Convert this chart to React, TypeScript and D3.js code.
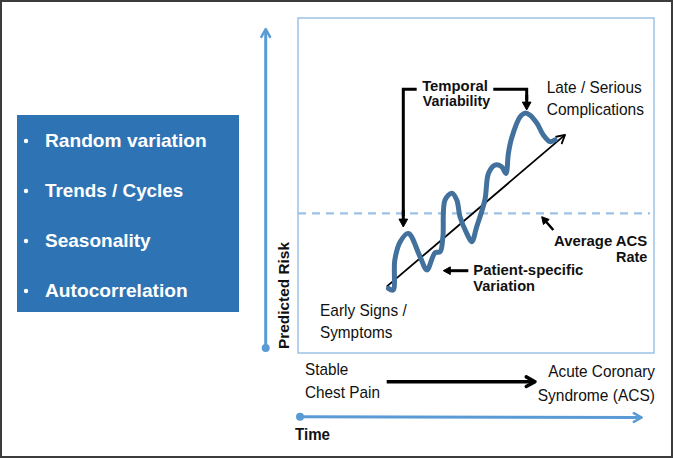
import React from "react";
import * as d3 from "d3";

// ---- data (time 0..100, predicted risk 0..100) ----
const waveTime = [25.4, 26.7, 27.2, 28.7, 31.0, 34.3, 36.2, 38.5, 39.9, 40.7, 41.3, 43.2, 44.6, 45.5, 47.4, 48.8, 50.2, 52.5, 53.5, 55.3, 57.2, 58.4, 59.1, 60.0, 62.4, 63.8, 65.2, 67.1, 68.9, 70.8, 72.2];
const waveRisk = [19.3, 18.8, 27.8, 33.2, 35.7, 28.7, 24.8, 29.9, 30.2, 34.7, 45.7, 47.7, 45.7, 40.7, 35.7, 33.2, 37.7, 45.7, 53.6, 56.1, 55.6, 53.6, 59.6, 64.1, 70.5, 71.6, 71.0, 68.6, 65.1, 63.1, 63.6];
const trendTime = [24.9, 75.0];
const trendRisk = [19.8, 65.1];
const averageRate = [41.7];
const factors = ["Random variation", "Trends / Cycles", "Seasonality", "Autocorrelation"];
const factorWidths = [161.7, 138.3, 105.7, 142.7];

const W = 673, H = 458;
const PLOT = { left: 298, right: 654, top: 18, bottom: 353 };
const BLUE = "#5b9bd5";
const WAVE = "#41719c";
const LIGHT = "#9cc2e5";
const FONT = "'Liberation Sans', Arial, sans-serif";

function arrowHead(x: number, y: number, angle: number, size: number, fill: boolean, color: string, sw: number) {
  const a1 = angle + Math.PI - 0.5, a2 = angle + Math.PI + 0.5;
  const p1 = [x + size * Math.cos(a1), y + size * Math.sin(a1)];
  const p2 = [x + size * Math.cos(a2), y + size * Math.sin(a2)];
  if (fill) {
    return <path d={`M${x},${y}L${p1[0]},${p1[1]}L${p2[0]},${p2[1]}Z`} fill={color} stroke={color} strokeWidth={1} strokeLinejoin="miter" />;
  }
  return <path d={`M${p1[0]},${p1[1]}L${x},${y}L${p2[0]},${p2[1]}`} fill="none" stroke={color} strokeWidth={sw} strokeLinecap="round" strokeLinejoin="round" />;
}

function Arrow({ x1, y1, x2, y2, color = "#000", sw = 2, size = 8, fill = true }: any) {
  const ang = Math.atan2(y2 - y1, x2 - x1);
  const back = fill ? size * 0.8 : 0;
  return (
    <g>
      <line x1={x1} y1={y1} x2={x2 - back * Math.cos(ang)} y2={y2 - back * Math.sin(ang)} stroke={color} strokeWidth={sw} />
      {arrowHead(x2, y2, ang, size, fill, color, sw)}
    </g>
  );
}

function T({ x, y, children, size = 15, bold = false, anchor = "start", len, fill = "#111" }: any) {
  return (
    <text x={x} y={y} fontSize={size} fontWeight={bold ? "bold" : "normal"} textAnchor={anchor} fill={fill}
      fontFamily={FONT} textLength={len} lengthAdjust={len ? "spacingAndGlyphs" : undefined}>{children}</text>
  );
}

export default function App() {
  const x = d3.scaleLinear().domain([0, 100]).range([PLOT.left, PLOT.right]);
  const y = d3.scaleLinear().domain([0, 100]).range([PLOT.bottom, PLOT.top]);
  const wave = waveTime.map((t, i) => [t, waveRisk[i]] as [number, number]);
  const line = d3.line<[number, number]>().x(d => x(d[0])).y(d => y(d[1])).curve(d3.curveCatmullRom.alpha(0.5));

  const tx1 = x(trendTime[0]), ty1 = y(trendRisk[0]), tx2 = x(trendTime[1]), ty2 = y(trendRisk[1]);
  const NS = 17; // normal text size
  const BS = 14.5; // bold annotation size

  return (
    <svg width={W} height={H} style={{ position: "absolute", left: 0, top: 0, background: "#fff" }}>
      <rect x={1} y={1} width={W - 2} height={H - 2} fill="#fff" stroke="#3c3c3c" strokeWidth={2} />

      {/* left factor box */}
      <rect x={17} y={115} width={222} height={197} fill="#2e74b5" />
      {factors.map((f, i) => (
        <g key={f}>
          <circle cx={26} cy={141 + i * 50} r={2.2} fill="#fff" />
          <T x={45} y={147 + i * 50} size={19} bold fill="#fff" len={factorWidths[i]}>{f}</T>
        </g>
      ))}

      {/* plot frame */}
      <rect x={PLOT.left} y={PLOT.top} width={PLOT.right - PLOT.left} height={PLOT.bottom - PLOT.top} fill="none" stroke={LIGHT} strokeWidth={1.5} />

      {/* y axis arrow */}
      <line x1={265.7} y1={348} x2={265.7} y2={30} stroke={BLUE} strokeWidth={3} />
      {arrowHead(265.7, 29, -Math.PI / 2, 9, false, BLUE, 2.5)}
      <circle cx={265.7} cy={348} r={4} fill={BLUE} />
      <text transform="translate(289,349) rotate(-90)" fontSize={15.5} fontWeight="bold" fontFamily={FONT} fill="#111" textLength={107} lengthAdjust="spacingAndGlyphs">Predicted Risk</text>

      {/* x axis arrow */}
      <line x1={300} y1={416.7} x2={640} y2={417.5} stroke={BLUE} strokeWidth={3} />
      {arrowHead(641.7, 417.5, 0, 9, false, BLUE, 2.5)}
      <circle cx={300} cy={416.7} r={4} fill={BLUE} />
      <T x={295} y={440} size={16.5} bold len={35}>Time</T>

      {/* average rate dashed line */}
      <line x1={PLOT.left} y1={y(averageRate[0])} x2={PLOT.right - 4} y2={y(averageRate[0])} stroke={LIGHT} strokeWidth={2.2} strokeDasharray="8,6" />

      {/* trend arrow */}
      <line x1={tx1} y1={ty1} x2={tx2} y2={ty2} stroke="#000" strokeWidth={1.8} />
      {arrowHead(tx2, ty2, Math.atan2(ty2 - ty1, tx2 - tx1), 9, false, "#000", 1.8)}

      {/* wave */}
      <path d={line(wave) || ""} fill="none" stroke={WAVE} strokeWidth={5} strokeLinejoin="round" strokeLinecap="round" />

      {/* temporal variability bracket */}
      <path d="M416.7,89.3 L403.3,89.3 L403.3,216" fill="none" stroke="#000" strokeWidth={3} />
      <Arrow x1={403.3} y1={210} x2={403.3} y2={227} sw={3} size={9} />
      <path d="M493.3,89.3 L526.7,89.3 L526.7,100" fill="none" stroke="#000" strokeWidth={3} />
      <Arrow x1={526.7} y1={95} x2={526.7} y2={110} sw={3} size={9} />
      <T x={455} y={90.5} size={BS} bold anchor="middle" len={65.7}>Temporal</T>
      <T x={456.5} y={106} size={BS} bold anchor="middle" len={67.3}>Variability</T>

      <T x={546.7} y={92.7} size={NS} len={95}>Late / Serious</T>
      <T x={546.7} y={115} size={NS} len={97.3}>Complications</T>

      {/* average ACS annotation */}
      <Arrow x1={553.3} y1={230} x2={541.7} y2={216.7} sw={2.5} size={8} />
      <T x={647.3} y={246} size={BS} bold anchor="end" len={93.3}>Average ACS</T>
      <T x={647.3} y={261.7} size={BS} bold anchor="end" len={31.3}>Rate</T>

      {/* patient-specific */}
      <Arrow x1={468.3} y1={270.7} x2={443.3} y2={270.7} sw={3} size={8} />
      <T x={473.3} y={275} size={BS} bold len={110}>Patient-specific</T>
      <T x={473.3} y={290.7} size={BS} bold len={61.7}>Variation</T>

      <T x={320} y={316} size={NS} len={86.7}>Early Signs /</T>
      <T x={320} y={338.3} size={NS} len={72.3}>Symptoms</T>

      {/* bottom progression */}
      <T x={305} y={375} size={NS} len={43.3}>Stable</T>
      <T x={305} y={398.3} size={NS} len={75}>Chest Pain</T>
      <line x1={386.7} y1={381.7} x2={533} y2={381.7} stroke="#000" strokeWidth={3.5} />
      {arrowHead(535, 381.7, 0, 10, false, "#000", 3.5)}
      <T x={655} y={377.3} size={NS} anchor="end" len={106.7}>Acute Coronary</T>
      <T x={655} y={400.7} size={NS} anchor="end" len={117.3}>Syndrome (ACS)</T>
    </svg>
  );
}
